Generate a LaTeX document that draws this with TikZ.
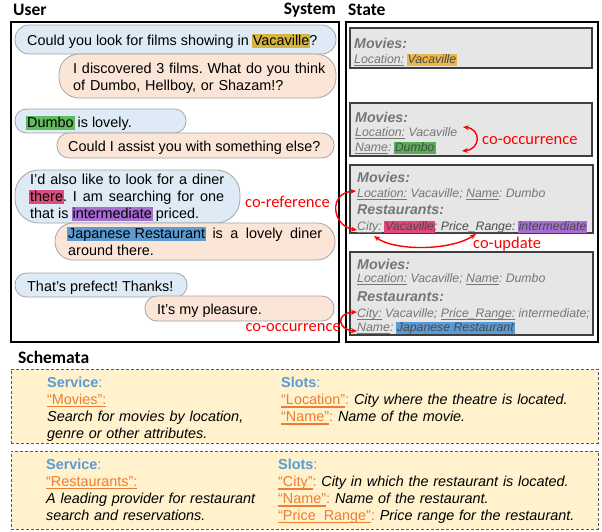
\documentclass[tikz,border=0pt]{standalone}
\usepackage{fontspec}
\setmainfont{Liberation Sans}
\newfontfamily\calfont{Carlito}
\usetikzlibrary{arrows.meta}
\frenchspacing
\definecolor{userblue}{HTML}{DEEAF6}
\definecolor{syspeach}{HTML}{FBE5D6}
\definecolor{bubline}{HTML}{A5A5A5}
\definecolor{hlmustard}{HTML}{D6B43E}
\definecolor{hlorange}{HTML}{E9B84B}
\definecolor{hlgreen}{HTML}{62BB5E}
\definecolor{hlgreenb}{HTML}{5AAD56}
\definecolor{hlpink}{HTML}{D84F7E}
\definecolor{hlred}{HTML}{E1477A}
\definecolor{hlpurple}{HTML}{A86DD2}
\definecolor{hlblue}{HTML}{5B9BD3}
\definecolor{stfill}{HTML}{E7E6E6}
\definecolor{stline}{HTML}{3F3F3F}
\definecolor{sttext}{HTML}{767676}
\definecolor{sthl}{HTML}{4A4A4A}
\definecolor{schfill}{HTML}{FFF2CC}
\definecolor{schline}{HTML}{595959}
\definecolor{svcblue}{HTML}{5B9BD5}
\definecolor{orng}{HTML}{ED7D31}
\definecolor{redc}{HTML}{FF0000}
\newcommand{\myhl}[2]{\setbox0\hbox{#2}\leavevmode\rlap{\kern-1pt\color{#1}\rule[-0.22em]{\dimexpr\wd0+2pt\relax}{1.0em}}\box0\relax}
\newcommand{\myul}[1]{\setbox0\hbox{#1}\leavevmode\rlap{\rule[-2.2pt]{\wd0}{0.7pt}}\box0\relax}
\newcommand{\myulk}[1]{\setbox0\hbox{#1}\leavevmode\rlap{\rule[-3.4pt]{\wd0}{1.8pt}}\box0\relax}
\begin{document}
\begin{tikzpicture}[x=1pt,y=-1pt,
  ubub/.style={draw=bubline, fill=userblue, line width=0.8pt, rounded corners=#1, inner sep=0pt},
  sbub/.style={draw=bubline, fill=syspeach, line width=0.8pt, rounded corners=#1, inner sep=0pt},
  frame/.style={draw=black, line width=1.3pt, inner sep=0pt},
  stbox/.style={draw=stline, fill=stfill, line width=1.2pt, inner sep=0pt},
  schbox/.style={draw=schline, fill=schfill, line width=0.9pt, dash pattern=on 3pt off 2pt, inner sep=0pt},
  ttxt/.style={inner sep=0pt, font=\fontsize{14.4}{17}\selectfont, text=black},
  stxt/.style={inner sep=0pt, anchor=base west, font=\fontsize{12.3}{14}\selectfont\itshape, text=sttext},
  sttl/.style={inner sep=0pt, anchor=base west, font=\fontsize{14.2}{16}\selectfont\bfseries\itshape, text=sttext},
  ttl/.style={inner sep=0pt, font=\calfont\bfseries\fontsize{17.5}{20}\selectfont, text=black},
  redlbl/.style={inner sep=0pt, font=\calfont\fontsize{16.5}{18}\selectfont, text=redc},
  redarr/.style={draw=redc, line width=1.4pt, {Stealth[length=6pt,width=5pt]}-{Stealth[length=6pt,width=5pt]}}
]
\fill[white] (0,0) rectangle (602,531);
\useasboundingbox (0,0) rectangle (602,531);

% titles
\node[ttl, anchor=west] (tuser) at (13,10) {User};
\node[ttl, anchor=east] (tsys) at (336,10) {System};
\node[ttl, anchor=west] (tstate) at (348,10) {State};
\node[ttl, anchor=west] (tsch) at (18,357) {Schemata};

% frames
\node[frame, minimum width=328pt, minimum height=320pt] (dlg) at (175,182) {};
\node[frame, minimum width=252pt, minimum height=320pt] (stf) at (472,182) {};

% dialogue bubbles
\node[ubub=14pt, minimum width=321pt, minimum height=29pt] (u1) at (175.5,39.5) {};
\node[sbub=20pt, minimum width=277pt, minimum height=44pt] (s1) at (197.5,76) {};
\node[ubub=11.5pt, minimum width=171pt, minimum height=24pt] (u2) at (100.5,121) {};
\node[sbub=12pt, minimum width=277pt, minimum height=25pt] (s2) at (195.5,145.5) {};
\node[ubub=24pt, minimum width=225pt, minimum height=53pt] (u3) at (127.5,196.5) {};
\node[sbub=18pt, minimum width=280pt, minimum height=37pt] (s3) at (195,241.5) {};
\node[ubub=11.5pt, minimum width=172pt, minimum height=24pt] (u4) at (101,285) {};
\node[sbub=12pt, minimum width=189pt, minimum height=25pt] (s4) at (239.5,308.5) {};

% dialogue texts
\node[ttxt, anchor=base west] (u1t) at (27,45) {Could you look for films showing in \myhl{hlmustard}{Vacaville}?};
\node[ttxt, anchor=north west, text width=270pt, align=left] (s1t) at (73,61.1) {\strut I discovered 3 films. What do you think\\of Dumbo, Hellboy, or Shazam!?};
\node[ttxt, anchor=base west] (u2t) at (27,127) {\myhl{hlgreen}{Dumbo} is lovely.};
\node[ttxt, anchor=base west] (s2t) at (68,151) {Could I assist you with something else?};
\node[ttxt, anchor=north west, text width=194pt, align=justify] (u3t) at (30,172.1) {\strut I'd also like to look for a diner\linebreak \myhl{hlpink}{there}. I am searching for one\linebreak that is \myhl{hlpurple}{intermediate} priced.};
\node[ttxt, anchor=north west, text width=254pt, align=justify] (s3t) at (68,226.1) {\strut\myhl{hlblue}{Japanese Restaurant} is a lovely diner\linebreak around there.};
\node[ttxt, anchor=base west] (u4t) at (27,291) {That's prefect! Thanks!};
\node[ttxt, anchor=base west] (s4t) at (157,314) {It's my pleasure.};

% state boxes
\node[stbox, minimum width=242pt, minimum height=40pt] (st1) at (471,48) {};
\node[stbox, minimum width=242pt, minimum height=53pt] (st2) at (471,129.5) {};
\node[stbox, minimum width=243pt, minimum height=68pt] (st3) at (471.5,199) {};
\node[stbox, minimum width=243pt, minimum height=83pt] (st4) at (471.5,293.5) {};

\node[sttl] (m1) at (354,48) {Movies:};
\node[stxt] (l1) at (354,63.2) {\myul{Location:} \myhl{hlorange}{\color{sthl}Vacaville}};

\node[sttl] (m2) at (355,122) {Movies:};
\node[stxt] (l2) at (355,136.2) {\myul{Location:} Vacaville};
\node[stxt] (n2) at (355,151.2) {\myul{Name}: \myhl{hlgreenb}{\color{sthl}Dumbo}};

\node[sttl] (m3) at (357,182) {Movies:};
\node[stxt] (l3) at (357,197.2) {\myul{Location:} Vacaville; \myul{Name}: Dumbo};
\node[sttl] (r3) at (357,214) {Restaurants:};
\node[stxt] (c3) at (357,230.2) {\myul{City:} \myhl{hlred}{\color{sthl}Vacaville}; \myul{Price\_Range:} \myhl{hlpurple}{\color{sthl}intermediate}};

\node[sttl] (m4) at (357,269) {Movies:};
\node[stxt] (l4) at (357,282.2) {\myul{Location:} Vacaville; \myul{Name}: Dumbo};
\node[sttl] (r4) at (357,301) {Restaurants:};
\node[stxt] (c4) at (357,317.2) {\myul{City:} Vacaville; \myul{Price\_Range:} intermediate;};
\node[stxt] (n4) at (357,331.2) {\myul{Name}: \myhl{hlblue}{\color{sthl}Japanese Restaurant}};

% red relation arrows
\coordinate (a1s) at (463,127);
\coordinate (a1e) at (462,151);
\draw[redarr] (a1s) .. controls (481,129) and (481,149) .. (a1e);
\node[redlbl, anchor=west] (lbl1) at (482,141) {co-occurrence};

\coordinate (a2s) at (356,191);
\coordinate (a2e) at (357,230);
\draw[redarr] (a2s) .. controls (328,193) and (332,226) .. (a2e);
\node[redlbl, anchor=east] (lbl2) at (330,202) {co-reference};

\coordinate (a3s) at (374,236);
\coordinate (a3e) at (476,234);
\draw[redarr] (a3s) .. controls (395,251) and (450,251) .. (a3e);
\node[redlbl, anchor=west] (lbl3) at (473,244) {co-update};

\coordinate (a4s) at (357,312);
\coordinate (a4e) at (357,331);
\draw[redarr] (a4s) .. controls (335,313) and (338,330) .. (a4e);
\node[redlbl, anchor=east] (lbl4) at (341,328) {co-occurrence};

% schemata
\node[schbox, minimum width=587pt, minimum height=74pt] (sch1) at (304.5,406) {};
\node[schbox, minimum width=587pt, minimum height=78pt] (sch2) at (304.5,490) {};

\node[ttxt, anchor=north west, text width=230pt, align=left] (sv1) at (47,375.1) {\strut{\color{svcblue}\textbf{Service}:}\\{\color{orng}\myul{“Movies”:}}\\\textit{Search for movies by location,}\\\textit{genre or other attributes.}};
\node[ttxt, anchor=north west, text width=318pt, align=left] (sl1) at (281,375.1) {\strut{\color{svcblue}\textbf{Slots}:}\\{\color{orng}\myulk{“Location”}:} \textit{City where the theatre is located.}\\{\color{orng}\myulk{“Name”}:} \textit{Name of the movie.}};

\node[ttxt, anchor=north west, text width=230pt, align=left] (sv2) at (46,457.1) {\strut{\color{svcblue}\textbf{Service}:}\\{\color{orng}\myul{“Restaurants”:}}\\\textit{A leading provider for restaurant}\\\textit{search and reservations.}};
\node[ttxt, anchor=north west, text width=320pt, align=left] (sl2) at (278,457.1) {\strut{\color{svcblue}\textbf{Slots}:}\\{\color{orng}\myulk{“City”}:} \textit{City in which the restaurant is located.}\\{\color{orng}\myulk{“Name”}:} \textit{Name of the restaurant.}\\{\color{orng}\myul{“Price\_Range”}:} \textit{Price range for the restaurant.}};
\end{tikzpicture}
\end{document}
